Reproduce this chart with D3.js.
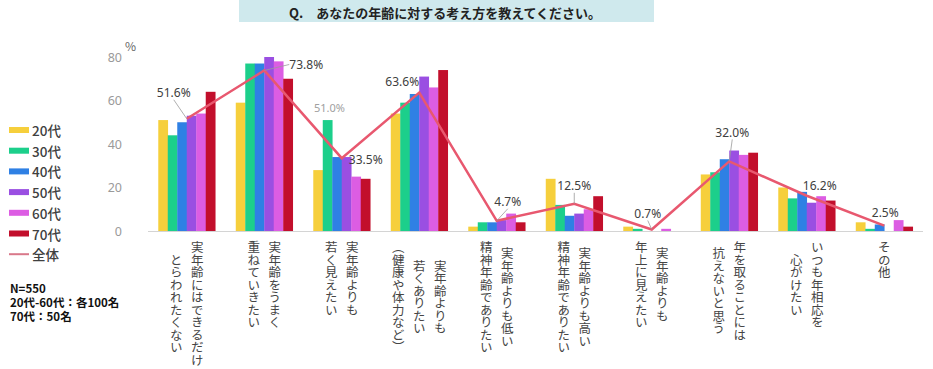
<!DOCTYPE html>
<html><head><meta charset="utf-8">
<script src="https://cdn.jsdelivr.net/npm/d3@7"></script>
<style>
body{margin:0;background:#fff;}
svg{display:block;font-family:"Noto Sans CJK JP","Noto Sans",sans-serif;}
</style></head>
<body><svg id="c" width="933" height="369"></svg>
<script>
const title = "Q.\u3000あなたの年齢に対する考え方を教えてください。";
const categories = [
  ["実年齢にはできるだけ","とらわれたくない"],
  ["実年齢をうまく","重ねていきたい"],
  ["実年齢よりも","若く見えたい"],
  ["実年齢よりも","若くありたい","（健康や体力など）"],
  ["実年齢よりも低い","精神年齢でありたい"],
  ["実年齢よりも高い","精神年齢でありたい"],
  ["実年齢よりも","年上に見えたい"],
  ["年を取ることには","抗えないと思う"],
  ["いつも年相応を","心がけたい"],
  ["その他"]
];
const seriesNames = ["20代","30代","40代","50代","60代","70代"];
const v20 = [51,59,28,54,2,24,2,26,20,4];
const v30 = [44,77,51,59,4,12,1,27,15,1];
const v40 = [50,77,34,63,4,7,0,33,18,3];
const v50 = [53,80,34,71,5,8,0,37,13,0];
const v60 = [54,78,25,66,8,10,1,35,16,5];
const v70 = [64,70,24,74,4,16,0,36,14,2];
const totalName = "全体";
const totalValues = [51.6,73.8,33.5,63.6,4.7,12.5,0.7,32.0,16.2,2.5];
const yTicks = [0,20,40,60,80];
const noteLines = ["N=550","20代-60代：各100名","70代：50名"];
const extraLabel = {cat:2, series:1, text:"51.0%"};

const colors = ["#f6cf3c","#1ccf8b","#2f80e4","#9a4fe2","#dc5de3","#c20f2c"];
const lineColor = "#e8586f";
const series = [v20,v30,v40,v50,v60,v70];
const labelOff = [[-13,-26],[42,-6],[24,1],[-17,-11],[11,-19],[0,-18],[-4,-16],[3,-29],[13,-10],[1,-13]];
const leader = [true,true,false,false,true,true,true,true,false,false];

const svg = d3.select("#c");
svg.append("rect").attr("x",239).attr("y",0).attr("width",415).attr("height",22).attr("fill","#cfe9ed");
svg.append("text").attr("x",445).attr("y",12).attr("text-anchor","middle").attr("dominant-baseline","central")
  .attr("font-size",13).attr("font-weight",700).attr("fill","#222").text(title);

const idx = d3.range(categories.length);
const x0 = d3.scaleBand().domain(idx).range([148,923]).paddingInner(0.265).paddingOuter(0.1325);
const x1 = d3.scaleBand().domain(d3.range(seriesNames.length)).range([0,x0.bandwidth()]);
const y = d3.scaleLinear().domain([0,80]).range([231,57]);

const yAxis = d3.axisLeft(y).tickValues(yTicks).tickSize(0).tickPadding(0);
const ga = svg.append("g").attr("transform","translate(122,0)").call(yAxis);
ga.select(".domain").remove();
ga.selectAll("text").attr("fill","#9a9a9a").attr("font-size",12.5).attr("font-family","'Noto Sans',sans-serif");
svg.append("text").attr("x",125).attr("y",51).attr("font-size",12).attr("fill","#666").text("%");

const g = svg.append("g");
idx.forEach(i=>{
  series.forEach((s,k)=>{
    g.append("rect").attr("x",x0(i)+x1(k)).attr("width",x1.bandwidth()+0.3)
      .attr("y",y(s[i])).attr("height",y(0)-y(s[i])).attr("fill",colors[k]);
  });
});
svg.append("line").attr("x1",148).attr("x2",923).attr("y1",y(0)+0.5).attr("y2",y(0)+0.5).attr("stroke","#d4d4d4");

const cx = i => x0(i)+x0.bandwidth()/2;
svg.append("path").datum(totalValues)
  .attr("d", d3.line().x((d,i)=>cx(i)).y(d=>y(d)))
  .attr("fill","none").attr("stroke",lineColor).attr("stroke-width",2.5);

totalValues.forEach((v,i)=>{
  const px=cx(i), py=y(v), lx=px+labelOff[i][0], ly=py+labelOff[i][1];
  if(leader[i]){
    let sx=lx, sy=ly+7, tx=px, ty=py;
    if(i===1){ sx=lx-17; sy=ly; }
    svg.append("line").attr("x1",sx).attr("y1",sy).attr("x2",tx).attr("y2",ty).attr("stroke","#9a9a9a").attr("stroke-width",0.8);
  }
  svg.append("text").attr("x",lx).attr("y",ly).attr("text-anchor","middle").attr("dominant-baseline","central")
    .attr("font-size",12).attr("fill","#404040").attr("font-family","'Noto Sans',sans-serif").text(v.toFixed(1)+"%");
});
{
  const i=extraLabel.cat, k=extraLabel.series;
  svg.append("text").attr("x",x0(i)+x1(k)+x1.bandwidth()/2+2).attr("y",y(series[k][i])-13)
    .attr("text-anchor","middle").attr("dominant-baseline","central").attr("font-size",11)
    .attr("fill","#a0a0a0").attr("font-family","'Noto Sans',sans-serif").text(extraLabel.text);
}

const colGap = 21, fs = 12.5, labelTop = 241;
categories.forEach((lines,i)=>{
  const maxLen = d3.max(lines, l=>l.length);
  const midY = labelTop + maxLen*fs/2;
  lines.forEach((l,j)=>{
    const xx = cx(i) + (lines.length-1)/2*colGap - j*colGap;
    svg.append("text").attr("x",xx).attr("y",midY)
      .style("writing-mode","vertical-rl").style("font-family","'Noto Sans CJK JP'")
      .attr("text-anchor","middle")
      .attr("font-size",fs).attr("fill","#454545").text(l);
  });
});

seriesNames.forEach((n,k)=>{
  const yy = 130 + k*20.7;
  svg.append("rect").attr("x",9).attr("y",yy-3).attr("width",20).attr("height",6).attr("fill",colors[k]);
  svg.append("text").attr("x",32).attr("y",yy).attr("dominant-baseline","central").attr("font-size",13.5)
    .attr("font-weight",500).attr("fill","#404040").text(n);
});
{
  const yy = 130 + 6*20.7;
  svg.append("line").attr("x1",9).attr("x2",29).attr("y1",yy).attr("y2",yy).attr("stroke","#d9788a").attr("stroke-width",2);
  svg.append("text").attr("x",32).attr("y",yy).attr("dominant-baseline","central").attr("font-size",13.5)
    .attr("font-weight",500).attr("fill","#404040").text(totalName);
}
const note = svg.append("text").attr("x",10).attr("y",293).attr("font-size",11.5)
  .attr("font-weight",700).attr("fill","#111");
noteLines.forEach((t,i)=>{
  note.append("tspan").attr("x",10).attr("dy", i===0?0:14).text(t);
});
</script></body></html>
